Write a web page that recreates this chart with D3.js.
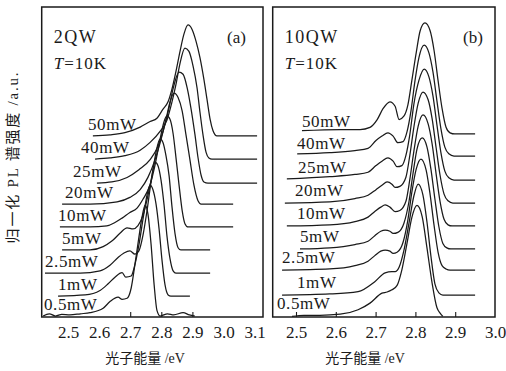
<!DOCTYPE html>
<html lang="zh">
<head>
<meta charset="utf-8">
<title>PL spectra</title>
<script src="https://d3js.org/d3.v7.min.js"></script>
<style type="text/css">
body{
  margin: 0;
  background: #fff;
}
svg text{
  font-family: "Liberation Serif", "Times New Roman", "Noto Sans CJK SC", serif;
  fill: #1a1a1a;
}
.curve{
  fill: none;
  stroke: #1a1a1a;
  stroke-width: 1.25;
}
.frame{
  fill: none;
  stroke: #1a1a1a;
  stroke-width: 1.5;
}
.ticks line{
  stroke: #1a1a1a;
  stroke-width: 1.1;
}
</style>
</head>
<body>
<svg width="506" height="371"></svg>
<script>

// excitation power of every trace, bottom to top
var powers = ["0.5mW", "1mW", "2.5mW", "5mW", "10mW", "20mW", "25mW", "40mW", "50mW"];

var ticksA = [2.5, 2.6, 2.7, 2.8, 2.9, 3.0, 3.1];
var ticksB = [2.5, 2.6, 2.7, 2.8, 2.9, 3.0];

// vertical shift of each trace (a.u.)
var offsetsA = [0.009, 0.189, 0.396, 0.604, 0.811, 1.018, 1.207, 1.423, 1.631];
var offsetsB = [0.005, 0.198, 0.423, 0.613, 0.820, 1.027, 1.234, 1.450, 1.649];

// (a) 2QW : [photon energy eV, normalised PL]
var spectraA = [
  [[2.420,0],[2.440,0.02],[2.460,0],[2.480,0.015],[2.506,0.01],[2.540,0.02],[2.571,0.03],[2.613,0.07],[2.635,0.13],[2.661,0.17],[2.674,0.15],[2.690,0.16],[2.703,0.25],[2.715,0.46],[2.728,0.71],[2.738,0.89],[2.748,1.0],[2.757,0.92],[2.767,0.65],[2.777,0.28],[2.786,0.05],[2.796,0],[2.820,0.02],[2.840,0.01],[2.870,0.03],[2.890,0.01],[2.908,0]],
  [[2.468,0],[2.555,0.01],[2.603,0.05],[2.629,0.11],[2.651,0.17],[2.674,0.21],[2.686,0.17],[2.703,0.18],[2.715,0.28],[2.728,0.46],[2.741,0.69],[2.754,0.91],[2.764,1.0],[2.773,0.96],[2.783,0.83],[2.793,0.6],[2.802,0.33],[2.812,0.1],[2.822,0.01],[2.831,0],[2.892,0]],
  [[2.426,0],[2.539,0],[2.603,0.02],[2.635,0.07],[2.661,0.14],[2.680,0.18],[2.699,0.2],[2.715,0.17],[2.728,0.2],[2.741,0.34],[2.754,0.56],[2.767,0.82],[2.780,1.0],[2.789,0.97],[2.799,0.84],[2.809,0.61],[2.818,0.34],[2.828,0.13],[2.838,0.02],[2.847,0],[2.957,0]],
  [[2.481,0],[2.571,0],[2.613,0.03],[2.641,0.08],[2.667,0.15],[2.690,0.2],[2.709,0.19],[2.725,0.22],[2.741,0.31],[2.757,0.49],[2.770,0.67],[2.783,0.88],[2.796,1.0],[2.805,0.97],[2.815,0.85],[2.825,0.67],[2.834,0.4],[2.844,0.15],[2.854,0.02],[2.863,0],[2.957,0]],
  [[2.474,0],[2.571,0],[2.625,0.01],[2.651,0.04],[2.674,0.08],[2.699,0.13],[2.722,0.17],[2.741,0.25],[2.764,0.38],[2.780,0.56],[2.796,0.79],[2.809,0.95],[2.818,1.0],[2.828,0.97],[2.838,0.84],[2.847,0.63],[2.857,0.38],[2.867,0.15],[2.876,0.03],[2.886,0],[3.031,0]],
  [[2.481,0],[2.571,0],[2.658,0.02],[2.699,0.06],[2.732,0.13],[2.757,0.24],[2.780,0.4],[2.799,0.58],[2.815,0.76],[2.828,0.92],[2.841,1.0],[2.854,0.96],[2.867,0.84],[2.879,0.63],[2.892,0.4],[2.905,0.17],[2.918,0.03],[2.928,0],[3.031,0]],
  [[2.593,0],[2.641,0.01],[2.690,0.05],[2.728,0.12],[2.764,0.21],[2.789,0.33],[2.809,0.5],[2.825,0.68],[2.838,0.85],[2.857,1.0],[2.870,0.98],[2.883,0.86],[2.895,0.68],[2.908,0.44],[2.918,0.23],[2.928,0.07],[2.937,0.01],[2.950,0],[3.108,0]],
  [[2.587,0],[2.635,0.01],[2.683,0.03],[2.732,0.08],[2.764,0.15],[2.796,0.25],[2.818,0.35],[2.834,0.51],[2.847,0.67],[2.860,0.86],[2.876,1.0],[2.889,0.97],[2.902,0.84],[2.915,0.64],[2.924,0.43],[2.934,0.22],[2.944,0.06],[2.953,0.01],[2.963,0],[3.108,0]],
  [[2.580,0],[2.635,0.01],[2.683,0.03],[2.732,0.08],[2.764,0.13],[2.786,0.16],[2.805,0.24],[2.822,0.31],[2.834,0.42],[2.847,0.58],[2.860,0.76],[2.873,0.92],[2.886,1.0],[2.899,0.96],[2.912,0.85],[2.924,0.71],[2.937,0.51],[2.947,0.33],[2.957,0.15],[2.966,0.05],[2.979,0],[3.108,0]]
];

// (b) 10QW
var spectraB = [
  [[2.490,0],[2.520,0.01],[2.560,0.01],[2.611,0.02],[2.656,0.06],[2.686,0.12],[2.716,0.21],[2.729,0.22],[2.741,0.24],[2.754,0.28],[2.766,0.42],[2.779,0.66],[2.791,0.89],[2.804,1.0],[2.817,0.9],[2.829,0.62],[2.842,0.3],[2.854,0.08],[2.862,0.03],[2.869,0]],
  [[2.465,0],[2.585,0.01],[2.656,0.03],[2.698,0.12],[2.724,0.2],[2.741,0.21],[2.749,0.21],[2.759,0.25],[2.771,0.4],[2.784,0.65],[2.796,0.89],[2.807,1.0],[2.819,0.9],[2.829,0.66],[2.839,0.35],[2.849,0.1],[2.859,0.02],[2.869,0],[2.950,0]],
  [[2.465,0],[2.585,0.01],[2.648,0.04],[2.681,0.08],[2.698,0.13],[2.713,0.17],[2.724,0.18],[2.736,0.17],[2.744,0.15],[2.754,0.16],[2.769,0.25],[2.781,0.45],[2.791,0.7],[2.802,0.91],[2.814,1.0],[2.827,0.9],[2.837,0.68],[2.847,0.4],[2.857,0.16],[2.867,0.04],[2.877,0.01],[2.887,0],[2.950,0]],
  [[2.510,0],[2.585,0.01],[2.648,0.04],[2.681,0.07],[2.698,0.12],[2.713,0.16],[2.724,0.17],[2.736,0.16],[2.744,0.14],[2.756,0.15],[2.771,0.23],[2.784,0.43],[2.794,0.68],[2.804,0.9],[2.817,1.0],[2.829,0.92],[2.839,0.72],[2.849,0.45],[2.859,0.2],[2.869,0.05],[2.879,0.01],[2.889,0],[2.950,0]],
  [[2.477,0],[2.585,0.01],[2.648,0.04],[2.681,0.08],[2.698,0.13],[2.713,0.17],[2.724,0.19],[2.736,0.17],[2.749,0.13],[2.761,0.14],[2.776,0.22],[2.786,0.42],[2.796,0.67],[2.807,0.9],[2.819,1.0],[2.832,0.92],[2.842,0.74],[2.852,0.47],[2.862,0.22],[2.872,0.06],[2.882,0.01],[2.892,0],[2.950,0]],
  [[2.472,0],[2.585,0.01],[2.648,0.04],[2.681,0.07],[2.701,0.12],[2.716,0.16],[2.729,0.19],[2.741,0.17],[2.749,0.14],[2.761,0.15],[2.776,0.23],[2.786,0.43],[2.796,0.68],[2.807,0.9],[2.819,1.0],[2.832,0.93],[2.842,0.76],[2.852,0.5],[2.862,0.25],[2.872,0.08],[2.882,0.02],[2.894,0],[2.950,0]],
  [[2.477,0.01],[2.585,0.03],[2.648,0.05],[2.681,0.07],[2.701,0.13],[2.716,0.17],[2.731,0.2],[2.744,0.17],[2.754,0.12],[2.766,0.13],[2.776,0.22],[2.786,0.41],[2.796,0.68],[2.809,0.9],[2.822,1.0],[2.834,0.93],[2.844,0.76],[2.854,0.5],[2.864,0.25],[2.874,0.08],[2.884,0.02],[2.897,0],[2.950,0]],
  [[2.503,0.02],[2.585,0.03],[2.648,0.05],[2.681,0.07],[2.701,0.14],[2.716,0.18],[2.731,0.21],[2.744,0.18],[2.756,0.12],[2.769,0.13],[2.779,0.22],[2.789,0.41],[2.799,0.68],[2.809,0.89],[2.822,1.0],[2.834,0.93],[2.844,0.76],[2.854,0.5],[2.864,0.25],[2.874,0.08],[2.884,0.02],[2.897,0],[2.950,0]],
  [[2.515,0.03],[2.611,0.04],[2.661,0.04],[2.686,0.06],[2.704,0.13],[2.719,0.23],[2.736,0.29],[2.749,0.25],[2.759,0.13],[2.771,0.16],[2.781,0.26],[2.791,0.48],[2.802,0.73],[2.812,0.93],[2.824,1.0],[2.837,0.93],[2.847,0.75],[2.857,0.48],[2.867,0.23],[2.877,0.06],[2.887,0.01],[2.899,0],[2.950,0]]
];

var svg = d3.select("svg");

var y = d3.scaleLinear().domain([0, 2.793]).range([317, 7]);

var panels = [
  {x: d3.scaleLinear().domain([2.5, 3.1]).range([68, 254.6]), left: 41.7, right: 263, ticks: ticksA, inner: [2.7, 2.8, 2.9],
   data: spectraA, offsets: offsetsA, labelX: [44, 58, 45, 62, 58, 65, 73, 81, 88], labelDy: 6,
   name: "2QW", tag: "(a)", tagX: 227, titleX: 145},
  {x: d3.scaleLinear().domain([2.5, 3.0]).range([296, 495]), left: 272.7, right: 495, ticks: ticksB, inner: [2.5, 2.6, 2.7, 2.8, 2.9],
   data: spectraB, offsets: offsetsB, labelX: [277, 297, 282, 300, 297, 295, 298, 297, 302], labelDy: 7,
   name: "10QW", tag: "(b)", tagX: 463, titleX: 365}
];

panels.forEach(function(p){
  var g = svg.append("g");

  var line = d3.line()
      .curve(d3.curveMonotoneX)
      .x(function(d) { return p.x(d[0]); });

  g.selectAll(".curve")
    .data(p.data)
    .enter().append("path")
      .attr("class", "curve")
      .attr("d", function(d, i) {
        return line.y(function(q) { return y(q[1] + p.offsets[i]); })(d);
      });

  g.selectAll(".plabel")
    .data(powers)
    .enter().append("text")
      .attr("class", "plabel")
      .attr("x", function(d, i) { return p.labelX[i]; })
      .attr("y", function(d, i) { return y(p.offsets[i]) - p.labelDy; })
      .style("font-size", "17px")
      .style("letter-spacing", "0.6px")
      .text(function(d) { return d; });

  g.append("rect")
      .attr("class", "frame")
      .attr("x", p.left)
      .attr("y", 7)
      .attr("width", p.right - p.left)
      .attr("height", 310);

  // inward ticks
  g.append("g")
      .attr("class", "ticks")
      .attr("transform", "translate(0,317)")
      .call(d3.axisBottom(p.x).tickValues(p.inner).tickSize(-5).tickFormat(""))
      .select(".domain").remove();

  var ax = g.append("g")
      .attr("transform", "translate(0,317)")
      .call(d3.axisBottom(p.x).tickValues(p.ticks).tickSize(0).tickPadding(9).tickFormat(d3.format(".1f")));
  ax.select(".domain").remove();
  ax.selectAll("text")
      .attr("fill", "#1a1a1a")
      .style("font-size", "17px")
      .style("font-family", "'Liberation Serif', serif");

  g.append("text")
      .attr("x", p.left + 12)
      .attr("y", 43)
      .style("font-size", "18px")
      .style("letter-spacing", "1.5px")
      .text(p.name);

  var t = g.append("text")
      .attr("x", p.left + 12)
      .attr("y", 69)
      .style("font-size", "17px")
      .style("letter-spacing", "1px");
  t.append("tspan").style("font-style", "italic").text("T");
  t.append("tspan").text("=10K");

  g.append("text")
      .attr("x", p.tagX)
      .attr("y", 43)
      .style("font-size", "17px")
      .text(p.tag);

  g.append("text")
      .attr("x", p.titleX)
      .attr("y", 363)
      .attr("text-anchor", "middle")
      .style("font-size", "14px")
      .text("光子能量 /eV");
});

svg.append("text")
    .attr("transform", "translate(18,157) rotate(-90)")
    .attr("text-anchor", "middle")
    .style("font-size", "15px")
    .style("letter-spacing", "1.8px")
    .text("归一化 PL 谱强度 /a.u.");

</script>
</body>
</html>
